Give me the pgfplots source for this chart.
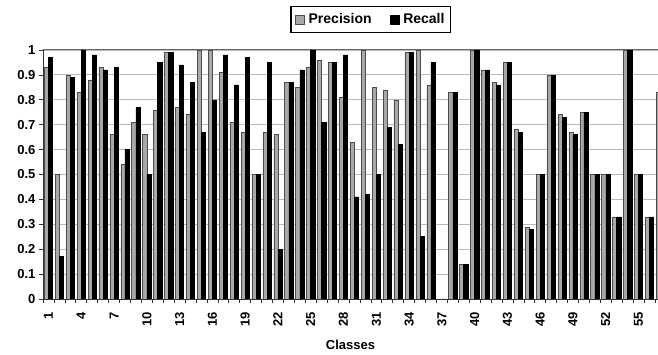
\documentclass[border=0pt]{standalone}
\usepackage{pgfplots}
\usepackage{pgfplotstable}
\pgfplotsset{compat=1.18}
\usepackage{fontspec}
\setmainfont{Liberation Sans}
\definecolor{precgray}{HTML}{A8A8A8}
\pgfplotstableread{
cls P R
1 0.93 0.97
2 0.50 0.17
3 0.90 0.89
4 0.83 1.00
5 0.88 0.98
6 0.93 0.92
7 0.66 0.93
8 0.54 0.60
9 0.71 0.77
10 0.66 0.50
11 0.76 0.95
12 0.99 0.99
13 0.77 0.94
14 0.74 0.87
15 1.00 0.67
16 1.00 0.80
17 0.91 0.98
18 0.71 0.86
19 0.67 0.97
20 0.50 0.50
21 0.67 0.95
22 0.66 0.20
23 0.87 0.87
24 0.85 0.92
25 0.93 1.00
26 0.96 0.71
27 0.95 0.95
28 0.81 0.98
29 0.63 0.41
30 1.00 0.42
31 0.85 0.50
32 0.84 0.69
33 0.80 0.62
34 0.99 0.99
35 1.00 0.25
36 0.86 0.95
37 0.00 0.00
38 0.83 0.83
39 0.14 0.14
40 1.00 1.00
41 0.92 0.92
42 0.87 0.86
43 0.95 0.95
44 0.68 0.67
45 0.29 0.28
46 0.50 0.50
47 0.90 0.90
48 0.74 0.73
49 0.67 0.66
50 0.75 0.75
51 0.50 0.50
52 0.50 0.50
53 0.33 0.33
54 1.00 1.00
55 0.50 0.50
56 0.33 0.33
57 0.83 0.83
}\data
\begin{document}
\begin{tikzpicture}
\begin{axis}[
  at={(43pt,56pt)}, anchor=south west,
  scale only axis, width=615pt, height=249pt,
  xmin=0.5, xmax=56.78, ymin=0, ymax=1,
  ybar=0pt, bar width=0.38,
  clip=true,
  axis x line*=bottom, axis y line*=left,
  axis line style={black!80, line width=0.8pt},
  ytick={0,0.1,0.2,0.3,0.4,0.5,0.6,0.7,0.8,0.9,1},
  yticklabels={0,0.1,0.2,0.3,0.4,0.5,0.6,0.7,0.8,0.9,1},
  xtick={1,4,...,55},
  minor xtick={0.5,1.5,...,56.5},
  major x tick style={draw=none},
  minor x tick style={black!80, line width=0.6pt},
  y tick style={black!80, line width=0.6pt},
  tick align=outside,
  major tick length=4pt, minor tick length=4pt,
  ymajorgrids, grid style={gray!55, line width=0.8pt},
  extra y ticks={1}, extra y tick labels={},
  extra y tick style={grid style={black!60, line width=1pt}},
  /pgf/number format/assume math mode=true,
  tick label style={font=\fontsize{13}{13}\selectfont\bfseries},
  xticklabel style={rotate=90, anchor=east},
  xticklabel shift=6pt,
  xlabel={Classes},
  xlabel style={at={(axis description cs:0.5,-0.185)}, anchor=center, font=\fontsize{13}{13}\selectfont\bfseries},
  legend style={at={(axis description cs:0.533,1.122)}, anchor=center,
    legend columns=2, draw=black, line width=1.2pt,
    font=\fontsize{14}{14}\selectfont\bfseries,
    inner xsep=4pt, inner ysep=5pt},
  legend image code/.code={\draw[#1, line width=0.6pt, /pgfplots/bar shift=0pt] (0pt,-4.5pt) rectangle (9pt,4.5pt);},
]
\addplot[fill=precgray, draw=black!70, line width=0.5pt, bar shift=-0.19] table[x=cls, y=P] {\data};
\addplot[fill=black, draw=black, line width=0.5pt, bar shift=0.19] table[x=cls, y=R] {\data};
\legend{\hspace*{2pt}Precision\hspace*{16pt}\mbox{}, \hspace*{2pt}Recall}
\end{axis}
\pgfresetboundingbox
\path[use as bounding box] (0pt,0pt) rectangle (658pt,355pt);
\end{tikzpicture}
\end{document}
